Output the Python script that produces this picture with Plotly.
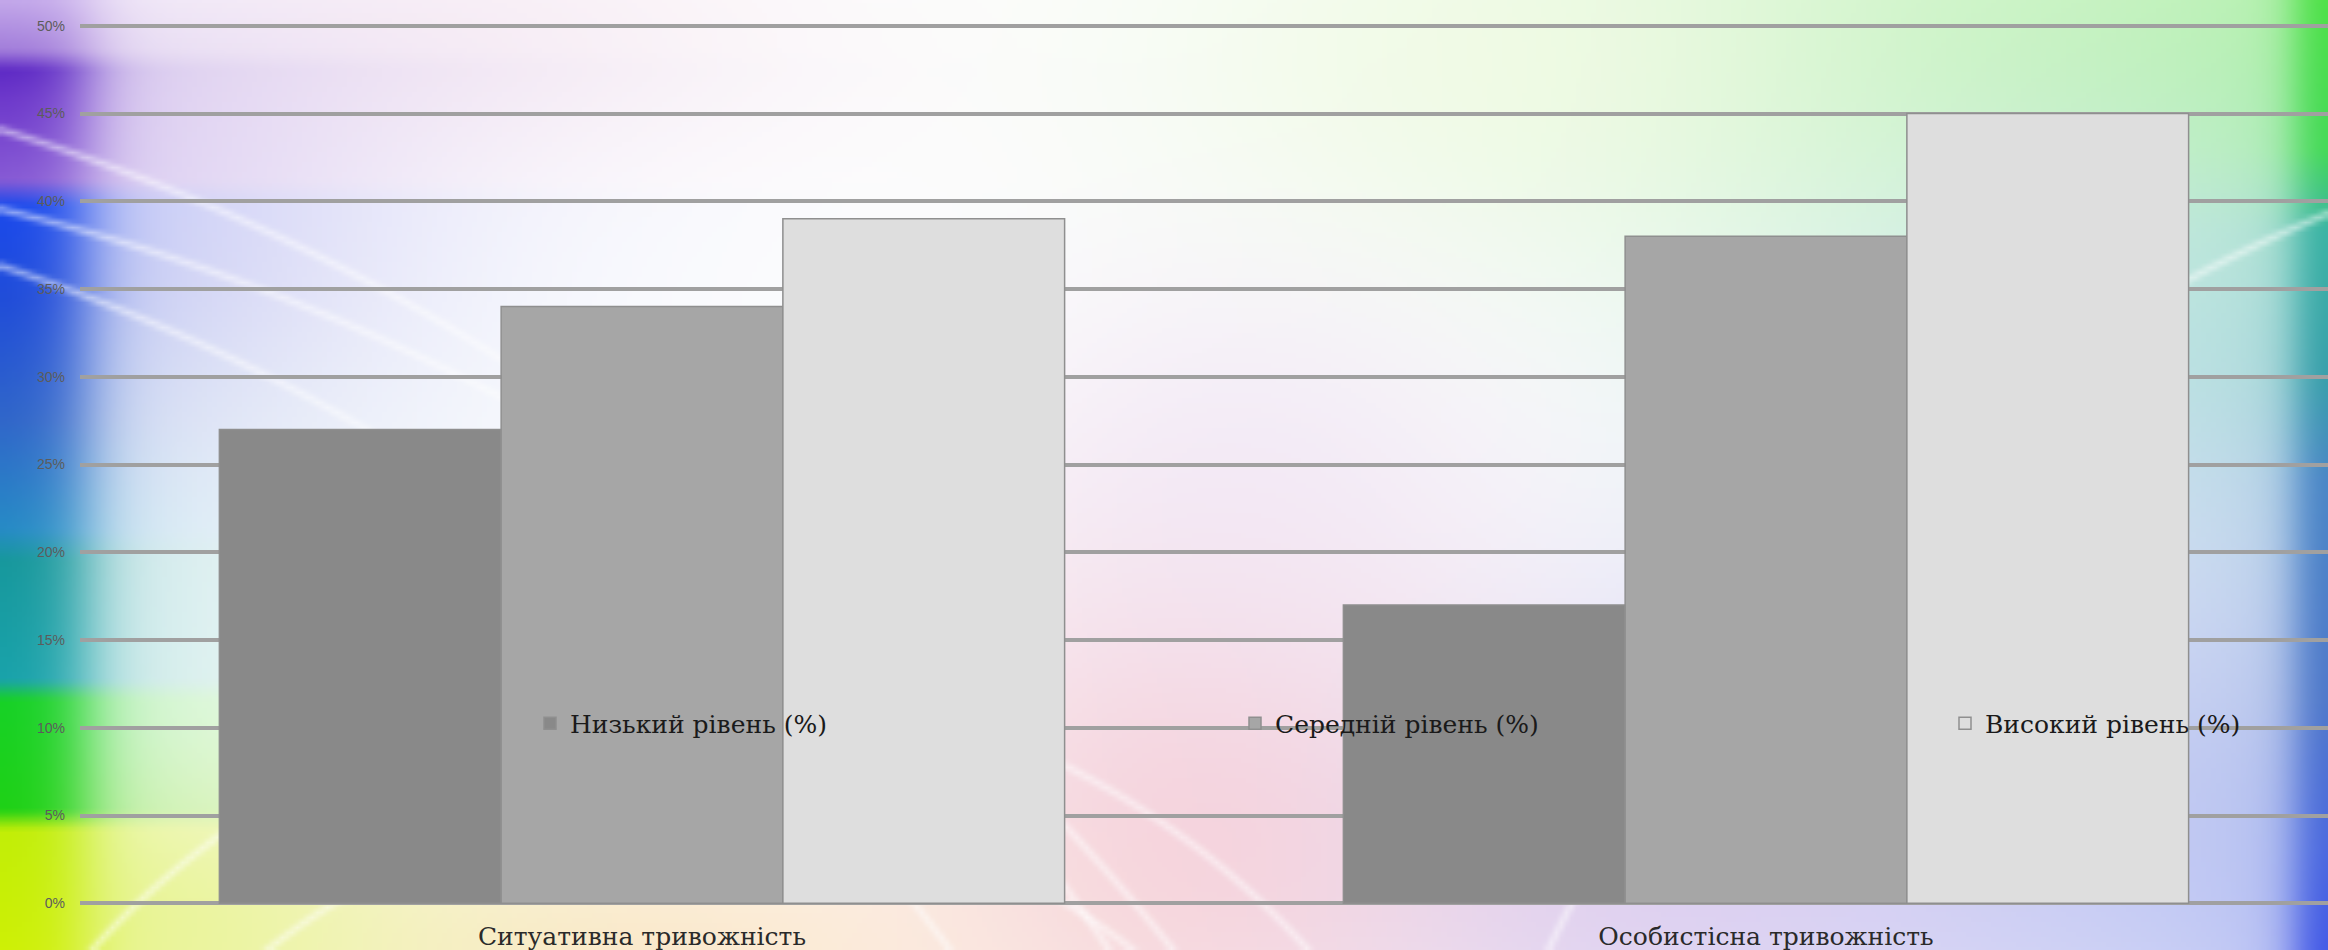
import base64
import struct
import zlib

import numpy as np
import plotly.graph_objects as go

# ---------------- data ----------------
categories = ["Ситуативна тривожність", "Особистісна тривожність"]
series_names = ["Низький рівень (%)", "Середній рівень (%)", "Високий рівень (%)"]
low_values = [27, 17]
mid_values = [34, 38]
high_values = [39, 45]
y_tick_values = [0, 5, 10, 15, 20, 25, 30, 35, 40, 45, 50]
y_tick_labels = ["0%", "5%", "10%", "15%", "20%", "25%", "30%", "35%", "40%", "45%", "50%"]

series_values = [low_values, mid_values, high_values]
bar_colors = ["#898989", "#a6a6a6", "#dedede"]

# ---------------- background picture (decorative) ----------------
W_FULL, H_FULL = 2328, 950
IW, IH = 466, 190
xs = (np.arange(IW) + 0.5) * W_FULL / IW
ys = (np.arange(IH) + 0.5) * H_FULL / IH
X, Y = np.meshgrid(xs, ys)


def hex_rgb(h):
    h = h.lstrip("#")
    return np.array([int(h[i:i + 2], 16) for i in (0, 2, 4)], dtype=float)


def stops_color(stops, coord):
    pos = np.array([s[0] for s in stops], dtype=float)
    cols = np.array([hex_rgb(s[1]) for s in stops])
    return np.stack([np.interp(coord, pos, cols[:, k]) for k in range(3)], axis=-1)


def blend(img, color, w):
    w = np.clip(w, 0, 1)[..., None]
    return img * (1 - w) + color * w


def blob(cx, cy, sx, sy, amp):
    return amp * np.exp(-(((X - cx) / sx) ** 2 + ((Y - cy) / sy) ** 2))


img = np.full((IH, IW, 3), 255.0)
soft = [
    (2100, 40, 650, 260, "#c6f3bd", 0.85),
    (2150, 360, 380, 230, "#bde5e4", 0.7),
    (2050, 820, 520, 300, "#c3ccf4", 0.85),
    (1650, 880, 380, 200, "#dccbf0", 0.75),
    (1180, 820, 300, 320, "#f6c6d2", 0.7),
    (620, 960, 380, 130, "#fbe2c4", 0.75),
    (180, 940, 260, 160, "#eef5ae", 0.85),
    (450, 30, 380, 140, "#f7e6ef", 0.5),
    (170, 230, 260, 180, "#e6dcf5", 0.5),
    (1250, 480, 260, 220, "#ece2f6", 0.5),
    (1500, 60, 300, 150, "#f4fbe4", 0.6),
]
for cx, cy, sx, sy, col, a in soft:
    img = blend(img, hex_rgb(col), blob(cx, cy, sx, sy, a))

left_stops = [
    (0, "#c2a6ea"), (50, "#a07ada"), (70, "#5a24c4"), (100, "#6a34ca"),
    (180, "#8456d4"), (205, "#1444ec"), (300, "#1a48d8"), (420, "#2a62c8"),
    (530, "#2088c4"), (560, "#10959a"), (680, "#12a0a8"), (700, "#10d020"),
    (810, "#18d010"), (830, "#c0ee00"), (950, "#cdf000"),
]
left_col = stops_color(left_stops, Y)
img = blend(img, left_col, 0.3 * np.exp(-X / 260))
img = blend(img, left_col, 0.97 / (1 + np.exp((X - 85) / 20)))

right_stops = [
    (0, "#46e040"), (150, "#3cd850"), (230, "#30b0a0"), (380, "#2f9aa8"),
    (480, "#4080c4"), (700, "#4672c8"), (850, "#4262de"), (950, "#3a52e6"),
]
right_col = stops_color(right_stops, Y)
img = blend(img, right_col, 0.3 * np.exp(-(W_FULL - X) / 140))
img = blend(img, right_col, 0.97 / (1 + np.exp((2296 - X) / 12)))

# soft white swirl lines
for cx, cy, r in [(-600, 2100, 2060), (-600, 2100, 1930), (-500, 2300, 2150),
                  (700, 1500, 700), (700, 1500, 820), (2900, 1600, 1500)]:
    d = np.abs(np.hypot(X - cx, Y - cy) - r)
    img = blend(img, np.array([255.0, 255, 255]), 0.5 * np.exp(-(d / 4) ** 2))

arr = np.clip(img, 0, 255).astype(np.uint8)


def png_uri(a):
    h, w, _ = a.shape
    raw = b"".join(b"\x00" + a[i].tobytes() for i in range(h))

    def chunk(tag, data):
        c = struct.pack(">I", len(data)) + tag + data
        return c + struct.pack(">I", zlib.crc32(tag + data) & 0xFFFFFFFF)

    png = b"\x89PNG\r\n\x1a\n"
    png += chunk(b"IHDR", struct.pack(">IIBBBBB", w, h, 8, 2, 0, 0, 0))
    png += chunk(b"IDAT", zlib.compress(raw, 9))
    png += chunk(b"IEND", b"")
    return "data:image/png;base64," + base64.b64encode(png).decode()


bg_uri = png_uri(arr)

# ---------------- figure ----------------
ML, MR, MT, MB = 80, 0, 24, 45
PW, PH = W_FULL - ML - MR, H_FULL - MT - MB
legend_ids = ["legend", "legend2", "legend3"]
legend_px = [530, 1235, 1945]

fig = go.Figure()
for name, vals, col, lid in zip(series_names, series_values, bar_colors, legend_ids):
    fig.add_trace(go.Bar(
        name=name, x=categories, y=vals, legend=lid,
        marker=dict(color=col, line=dict(color="#8f8f8f", width=1.5)),
    ))

legend_style = dict(
    orientation="h", y=0.206, xanchor="left", yanchor="middle",
    bgcolor="rgba(0,0,0,0)", borderwidth=0,
    font=dict(family="DejaVu Serif", size=25, color="#1a1a1a"),
)
legends = {}
for lid, px in zip(legend_ids, legend_px):
    legends[lid] = dict(legend_style, x=(px - ML) / PW)

fig.update_layout(
    width=W_FULL, height=H_FULL,
    margin=dict(l=ML, r=MR, t=MT, b=MB),
    paper_bgcolor="white",
    plot_bgcolor="rgba(0,0,0,0)",
    barmode="group",
    bargap=0.248,
    bargroupgap=0,
    images=[dict(
        source=bg_uri, xref="paper", yref="paper", x=-ML / PW, y=1 + MT / PH,
        sizex=W_FULL / PW, sizey=H_FULL / PH, xanchor="left", yanchor="top",
        sizing="stretch", layer="below",
    )],
    showlegend=True,
    xaxis=dict(
        showgrid=False, showline=False, zeroline=False, ticks="",
        tickfont=dict(family="DejaVu Serif", size=25, color="#2a2a2a"),
        ticklabelstandoff=14,
    ),
    yaxis=dict(
        range=[-0.1, 50.1], tickvals=y_tick_values, ticktext=y_tick_labels,
        showgrid=True, gridcolor="#a0a0a0", gridwidth=4,
        zeroline=False, showline=False, ticks="",
        tickfont=dict(family="Liberation Sans", size=14, color="#5c5c5c"),
        ticklabelstandoff=14,
    ),
    **legends,
)

fig.write_html(
    "out.html",
    config={"displayModeBar": False},
    post_script="document.body.style.margin='0px';document.body.style.overflow='hidden';",
)
